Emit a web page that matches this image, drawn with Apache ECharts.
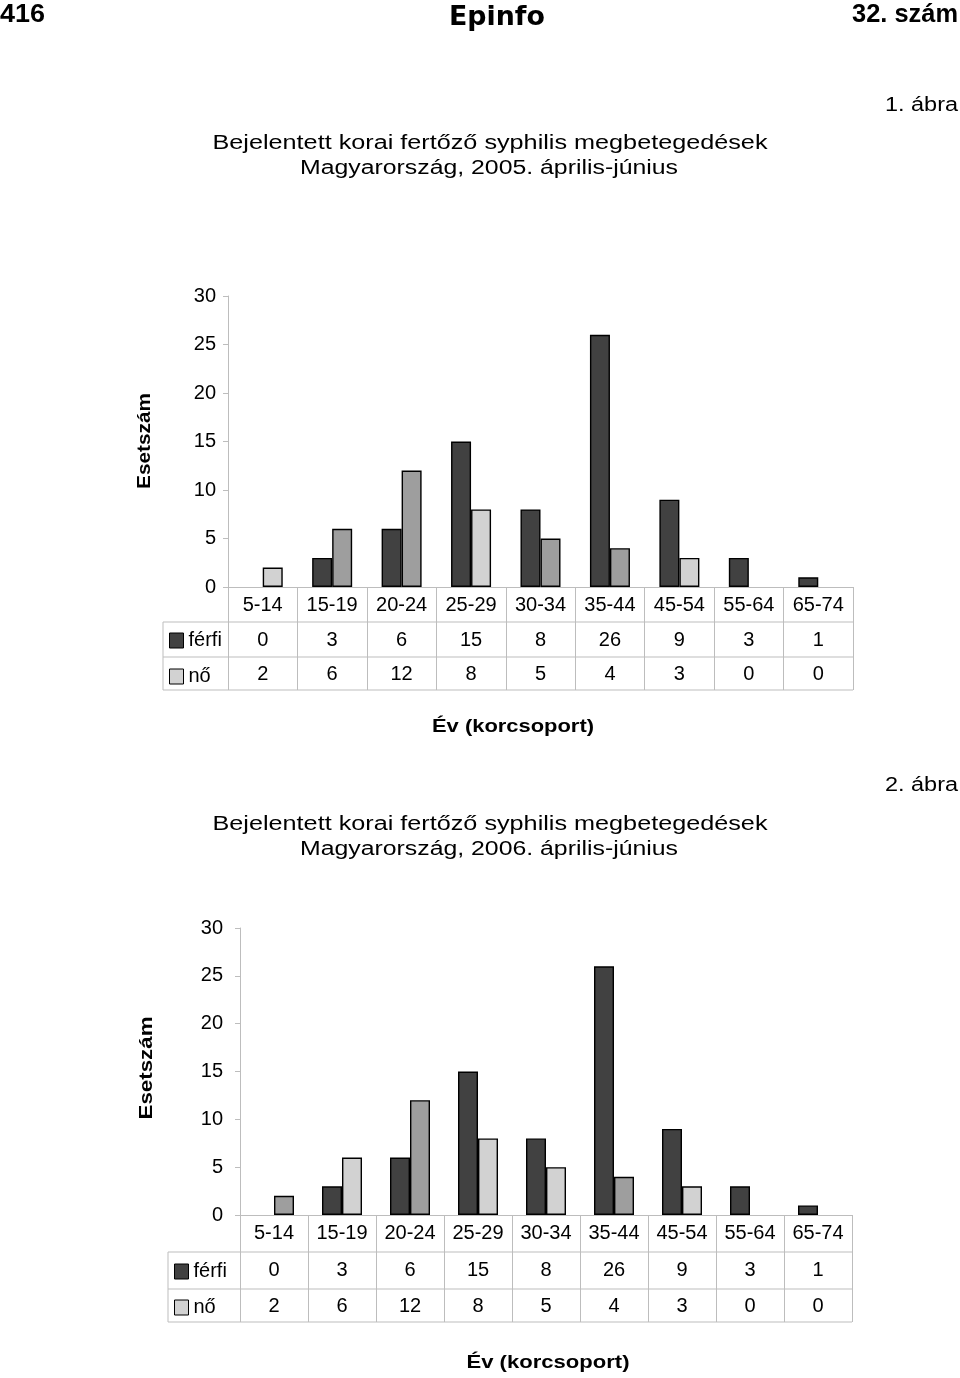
<!DOCTYPE html>
<html><head><meta charset="utf-8">
<script src="https://cdn.jsdelivr.net/npm/echarts@6/dist/echarts.min.js"></script>
<style>html,body{margin:0;padding:0;background:#fff}#c{width:960px;height:1378px}</style>
</head><body><div id="c"></div>
<script>
// ---- data ----
var categories = ['5-14','15-19','20-24','25-29','30-34','35-44','45-54','55-64','65-74'];
var male2005 = [0,3,6,15,8,26,9,3,1];
var female2005 = [2,6,12,8,5,4,3,0,0];
var male2006 = [0,3,6,15,8,26,9,3,1];
var female2006 = [2,6,12,8,5,4,3,0,0];
var yTicks = [0,5,10,15,20,25,30];
var seriesNames = ['férfi','nő'];
var title2005 = ['Bejelentett korai fertőző syphilis megbetegedések','Magyarország, 2005. április-június'];
var title2006 = ['Bejelentett korai fertőző syphilis megbetegedések','Magyarország, 2006. április-június'];
var figLabels = ['1. ábra','2. ábra'];
var header = ['416','Epinfo','32. szám'];
var xName = 'Év (korcsoport)';
var yName = 'Esetszám';

// ---- styles ----
var FONT = '"Liberation Sans", Arial, sans-serif';
var AFS = 20;
var DARK = '#414141', LIGHT = '#d2d2d2', MID = '#9e9e9e';
var shade2005 = [LIGHT, MID, MID, LIGHT, MID, MID, LIGHT, LIGHT, LIGHT];
var shade2006 = [MID, LIGHT, MID, LIGHT, LIGHT, MID, LIGHT, LIGHT, LIGHT];
var GRID = '#bdbdbd';

var L = [
  {left:228, top:296, width:625, height:291, row:35, tableLeft:163, last:33, legendTop:630.5},
  {left:240, top:928, width:612, height:287, row:37, tableLeft:168, last:33, legendTop:1261.5}
];

var mctx = document.createElement('canvas').getContext('2d');
function measure(t, font){ mctx.font = font; return mctx.measureText(t).width; }

function noZero(arr){ return arr.map(function(v){ return v === 0 ? '-' : v; }); }

function yAx(g){
  return {gridIndex:g, type:'value', min:0, max:30, interval:5,
    axisLine:{show:true, lineStyle:{color:GRID, width:1}},
    axisTick:{show:true, length:5, lineStyle:{color:GRID}},
    splitLine:{show:false},
    axisLabel:{color:'#000', fontSize:AFS, fontFamily:FONT, margin:g===0?12:17,
      formatter:function(v){return yTicks.indexOf(v)>=0?String(v):'';}}
  };
}
function xAxes(g){
  var l = L[g];
  var tickLen = l.row*2 + l.last;
  return [
    {gridIndex:g, type:'category', data:categories, position:'bottom',
      axisLine:{show:true, lineStyle:{color:GRID}},
      axisTick:{show:true, interval:0, length:tickLen, lineStyle:{color:GRID}},
      axisLabel:{color:'#000', fontSize:AFS, fontFamily:FONT, margin:8, interval:0}},
    {gridIndex:g, type:'category', data:(g===0?male2005:male2006).map(String), position:'bottom', offset:l.row,
      axisLine:{show:false}, axisTick:{show:false},
      axisLabel:{color:'#000', fontSize:AFS, fontFamily:FONT, margin:8, interval:0}},
    {gridIndex:g, type:'category', data:(g===0?female2005:female2006).map(String), position:'bottom', offset:l.row*2,
      axisLine:{show:false}, axisTick:{show:false},
      axisLabel:{color:'#000', fontSize:AFS, fontFamily:FONT, margin:7, interval:0}}
  ];
}
function bars(g){
  var male = g===0?male2005:male2006, female = g===0?female2005:female2006;
  var shade = g===0?shade2005:shade2006;
  return [
    {name:seriesNames[0], type:'bar', xAxisIndex:g*3, yAxisIndex:g, data:noZero(male), barWidth:20, barGap:'0%',
      itemStyle:{color:DARK, borderColor:'#000', borderWidth:1.4}},
    {name:seriesNames[1], type:'bar', xAxisIndex:g*3, yAxisIndex:g, data:noZero(female), barWidth:20, barGap:'0%',
      itemStyle:{color:function(p){return shade[p.dataIndex];}, borderColor:'#000', borderWidth:1.4}}
  ];
}
function legend(g){
  var l = L[g];
  return {orient:'vertical', left:l.tableLeft+6, top:l.legendTop, padding:0, itemWidth:14, itemHeight:15,
    itemGap:35-19, icon:'rect',
    textStyle:{color:'#000', fontSize:20, fontFamily:FONT},
    selectedMode:false,
    data:[{name:seriesNames[0], itemStyle:{color:DARK, borderColor:'#000', borderWidth:1}},
          {name:seriesNames[1], itemStyle:{color:LIGHT, borderColor:'#000', borderWidth:1}}]};
}
function hline(x1,x2,y){return {type:'line', shape:{x1:x1,y1:y,x2:x2,y2:y}, style:{stroke:GRID, lineWidth:1}, silent:true};}
function vline(x,y1,y2){return {type:'line', shape:{x1:x,y1:y1,x2:x,y2:y2}, style:{stroke:GRID, lineWidth:1}, silent:true};}
// text fitted to a target width (reference uses letter-spaced type)
function txt(x,y,t,font,align,target,rot){
  var w = measure(t, font);
  var s = target ? target / w : 1;
  var el = {type:'text', x:x, y:y, scaleX:s, silent:true,
    style:{text:t, x:0, y:0, fill:'#000', font:font, textAlign:align||'center', textVerticalAlign:'middle'}};
  if(rot){ el.rotation = rot; }
  return el;
}
function tableLines(g){
  var l = L[g], base = l.top+l.height, right = l.left+l.width;
  var y1 = base+l.row, y2 = base+2*l.row, y3 = base+2*l.row+l.last;
  return [hline(l.tableLeft,right,y1), hline(l.tableLeft,right,y2), hline(l.tableLeft,right,y3),
          vline(l.tableLeft,y1,y3)];
}

var HF = 'bold 25px "Liberation Sans",sans-serif';
var TF = '20px '+FONT;
var graphics = [
  txt(0,15,header[0],HF,'left',45),
  txt(497,18,header[1],'900 27px "DejaVu Sans",sans-serif','center',96),
  txt(958,15,header[2],HF,'right',106),
  txt(958,105,figLabels[0],'20px '+FONT,'right',73),
  txt(490,143,title2005[0],TF,'center',555),
  txt(489,168,title2005[1],TF,'center',378),
  txt(513,727,xName,'bold 18px '+FONT,'center',162),
  txt(145,441,yName,'bold 19px '+FONT,'center',96,Math.PI/2),
  txt(958,785,figLabels[1],'20px '+FONT,'right',73),
  txt(490,824,title2006[0],TF,'center',555),
  txt(489,849,title2006[1],TF,'center',378),
  txt(548,1363,xName,'bold 18px '+FONT,'center',163),
  txt(147,1068,yName,'bold 19px '+FONT,'center',103,Math.PI/2)
].concat(tableLines(0)).concat(tableLines(1));

var chart = echarts.init(document.getElementById('c'), null, {renderer:'canvas'});
chart.setOption({
  animation:false,
  backgroundColor:'#fff',
  grid:[{left:L[0].left, top:L[0].top, width:L[0].width, height:L[0].height, containLabel:false},
        {left:L[1].left, top:L[1].top, width:L[1].width, height:L[1].height, containLabel:false}],
  xAxis:xAxes(0).concat(xAxes(1)),
  yAxis:[yAx(0), yAx(1)],
  legend:[legend(0), legend(1)],
  series:bars(0).concat(bars(1)),
  graphic:graphics
});
</script></body></html>
